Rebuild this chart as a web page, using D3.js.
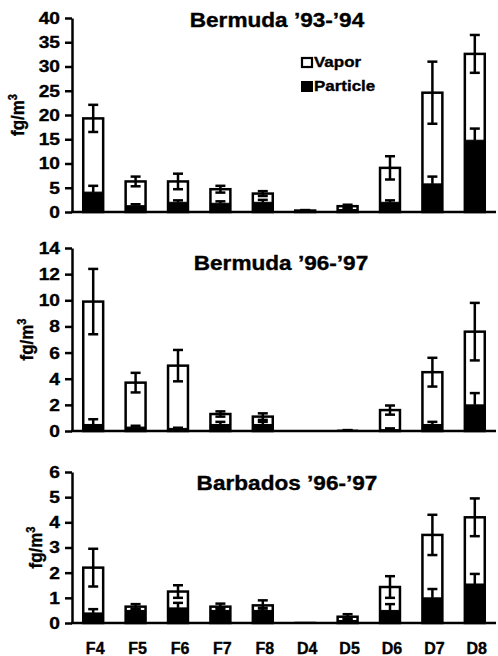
<!DOCTYPE html>
<html>
<head>
<meta charset="utf-8">
<script src="https://cdn.jsdelivr.net/npm/d3@7"></script>
<style>
  body { margin: 0; background: #fff; }
  text { font-family: "Liberation Sans", Arial, Helvetica, sans-serif; font-weight: bold; fill: #000; stroke: #000; stroke-width: 0.35px; }
</style>
</head>
<body>
<div id="chart"></div>
<script>
// --------------- Data ---------------
const categories = ["F4", "F5", "F6", "F7", "F8", "D4", "D5", "D6", "D7", "D8"];

const titles = ["Bermuda \u201993-\u201994", "Bermuda \u201996-\u201997", "Barbados \u201996-\u201997"];
const yMaxes = [40, 14, 6];
const yTicks = [
  [0, 5, 10, 15, 20, 25, 30, 35, 40],
  [0, 2, 4, 6, 8, 10, 12, 14],
  [0, 1, 2, 3, 4, 5, 6],
];

// Bermuda '93-'94
const bda9394Total = [19.3, 6.3, 6.3, 4.7, 3.8, 0.3, 1.2, 9.1, 24.6, 32.6];
const bda9394TotalErr = [2.8, 1.0, 1.6, 0.7, 0.5, 0.1, 0.3, 2.4, 6.4, 3.9];
const bda9394Particle = [4.1, 1.3, 2.0, 1.8, 2.0, 0.1, 0.5, 2.0, 5.8, 14.8];
const bda9394ParticleErr = [1.3, 0.3, 0.4, 0.4, 0.5, 0, 0.2, 0.4, 1.5, 2.4];

// Bermuda '96-'97
const bda9697Total = [9.9, 3.7, 5.0, 1.3, 1.1, 0.0, 0.05, 1.6, 4.5, 7.6];
const bda9697TotalErr = [2.5, 0.75, 1.2, 0.2, 0.25, 0, 0.02, 0.35, 1.1, 2.2];
const bda9697Particle = [0.5, 0.3, 0.2, 0.5, 0.5, 0, 0.02, 0.1, 0.5, 2.0];
const bda9697ParticleErr = [0.4, 0.1, 0.05, 0.2, 0.2, 0, 0, 0.1, 0.2, 0.9];

// Barbados '96-'97
const bar9697Total = [2.2, 0.65, 1.25, 0.65, 0.7, 0.02, 0.25, 1.43, 3.5, 4.2];
const bar9697TotalErr = [0.75, 0.1, 0.25, 0.12, 0.2, 0, 0.1, 0.43, 0.8, 0.75];
const bar9697Particle = [0.4, 0.5, 0.6, 0.5, 0.5, 0, 0.1, 0.5, 1.0, 1.55];
const bar9697ParticleErr = [0.15, 0.05, 0.2, 0.1, 0.1, 0, 0.05, 0.25, 0.35, 0.4];

// --------------- Layout constants ---------------
const WIDTH = 498;
const HEIGHT = 656;
const AXIS_X = 72;
const RIGHT_X = 496;
const STRETCH = 1.13; // the scan's lettering is a bit wide
const CAP_W = 10;

const panels = [
  { top: 18, bottom: 212, titleX: 277, titleY: 27, labelX: 18,
    total: bda9394Total, totalErr: bda9394TotalErr, particle: bda9394Particle, particleErr: bda9394ParticleErr },
  { top: 248, bottom: 431, titleX: 281, titleY: 270, labelX: 27,
    total: bda9697Total, totalErr: bda9697TotalErr, particle: bda9697Particle, particleErr: bda9697ParticleErr },
  { top: 472, bottom: 623, titleX: 287, titleY: 490, labelX: 36,
    total: bar9697Total, totalErr: bar9697TotalErr, particle: bar9697Particle, particleErr: bar9697ParticleErr },
];

const svg = d3
  .select("#chart")
  .append("svg")
  .attr("width", WIDTH)
  .attr("height", HEIGHT);

const x = d3
  .scaleBand()
  .domain(categories)
  .range([AXIS_X, RIGHT_X])
  .paddingInner(0.53)
  .paddingOuter(0.265);

function drawErr(g, cx, y0, y1, withLow) {
  g.append("line")
    .attr("x1", cx).attr("x2", cx)
    .attr("y1", y0).attr("y2", y1)
    .attr("stroke", "#000").attr("stroke-width", 2.5);
  const caps = withLow ? [y0, y1] : [y1];
  caps.forEach((cy) => {
    g.append("line")
      .attr("x1", cx - CAP_W / 2).attr("x2", cx + CAP_W / 2)
      .attr("y1", cy).attr("y2", cy)
      .attr("stroke", "#000").attr("stroke-width", 2.5);
  });
}

// --------------- Panels ---------------
panels.forEach((p, i) => {
  const y = d3.scaleLinear().domain([0, yMaxes[i]]).range([p.bottom, p.top]);
  const g = svg.append("g").attr("data-panel", i);

  // bars: white total with black particle part
  const rows = categories.map((c, j) => ({
    cat: c,
    total: p.total[j],
    totalErr: p.totalErr[j],
    particle: p.particle[j],
    particleErr: p.particleErr[j],
  }));

  const bars = g.append("g").selectAll("g").data(rows).enter().append("g");

  bars
    .append("rect")
    .attr("x", (d) => x(d.cat))
    .attr("width", x.bandwidth())
    .attr("y", (d) => y(d.total))
    .attr("height", (d) => y(0) - y(d.total))
    .attr("fill", "#fff")
    .attr("stroke", "#000")
    .attr("stroke-width", (d) => (d.total > 0.1 ? 2.5 : 1.5));

  bars
    .append("rect")
    .attr("x", (d) => x(d.cat))
    .attr("width", x.bandwidth())
    .attr("y", (d) => y(d.particle))
    .attr("height", (d) => y(0) - y(d.particle))
    .attr("fill", "#000")
    .attr("stroke", "#000")
    .attr("stroke-width", 1);

  bars.each(function (d) {
    const bg = d3.select(this);
    const cx = x(d.cat) + x.bandwidth() / 2;
    if (d.totalErr > 0) {
      drawErr(bg, cx, y(d.total - d.totalErr), y(d.total + d.totalErr), true);
    }
    if (d.particleErr > 0) {
      drawErr(bg, cx, y(d.particle), y(d.particle + d.particleErr), false);
    }
  });

  // y axis
  const yAxis = g
    .append("g")
    .attr("transform", `translate(${AXIS_X},0)`)
    .call(d3.axisLeft(y).tickValues(yTicks[i]).tickSize(7).tickSizeOuter(0).tickFormat(d3.format("d")));
  yAxis.select(".domain").attr("stroke-width", 2.5);
  yAxis.selectAll(".tick line").attr("stroke-width", 2.5);
  yAxis
    .selectAll(".tick text")
    .attr("x", null)
    .attr("transform", `translate(-12,0) scale(${STRETCH},1)`)
    .attr("fill", null)
    .style("font-size", "17px")
    .style("font-family", null);

  // x axis line
  g.append("line")
    .attr("x1", AXIS_X - 1).attr("x2", RIGHT_X)
    .attr("y1", y(0)).attr("y2", y(0))
    .attr("stroke", "#000").attr("stroke-width", 2.5);

  // title
  g.append("text")
    .attr("transform", `translate(${p.titleX},${p.titleY}) scale(${STRETCH},1)`)
    .attr("text-anchor", "middle")
    .style("font-size", "20px")
    .text(titles[i]);

  // y label
  const label = g
    .append("text")
    .attr("transform", `translate(${p.labelX + 6},${(p.top + p.bottom) / 2}) rotate(-90) scale(1,${STRETCH})`)
    .attr("text-anchor", "middle")
    .style("font-size", "17px");
  label.append("tspan").text("fg/m");
  label.append("tspan").attr("dy", "-0.55em").style("font-size", "11px").text("3");
});

// --------------- Legend ---------------
const legend = svg.append("g");
legend.append("rect")
  .attr("x", 302).attr("y", 58).attr("width", 10).attr("height", 9)
  .attr("fill", "#fff").attr("stroke", "#000").attr("stroke-width", 2.2);
legend.append("rect")
  .attr("x", 301).attr("y", 81).attr("width", 12).attr("height", 11)
  .attr("fill", "#000");
legend.append("text")
  .attr("transform", `translate(314,67) scale(${STRETCH},1)`)
  .style("font-size", "15px")
  .text("Vapor");
legend.append("text")
  .attr("transform", `translate(314,91) scale(${STRETCH},1)`)
  .style("font-size", "15px")
  .text("Particle");

// --------------- Category labels ---------------
svg.append("g")
  .selectAll("text")
  .data(categories)
  .enter()
  .append("text")
  .attr("x", (d) => x(d) + x.bandwidth() / 2 + 2)
  .attr("y", 654)
  .attr("text-anchor", "middle")
  .style("font-size", "16px")
  .text((d) => d);
</script>
</body>
</html>
